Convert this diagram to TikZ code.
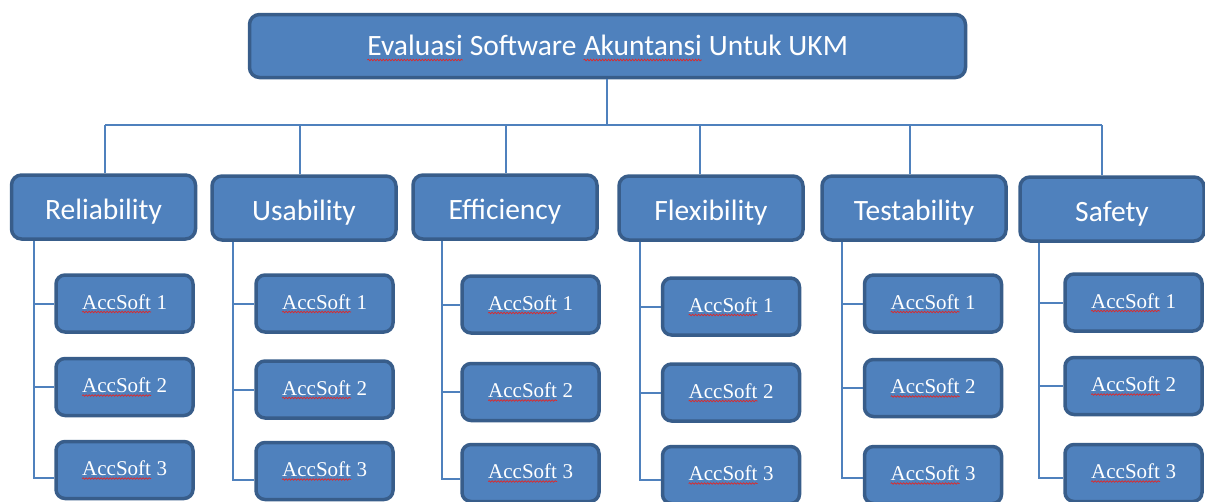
\documentclass[tikz,border=0pt]{standalone}
\usepackage{fontspec}
\setmainfont{Liberation Serif}
\newfontfamily\calibri{Carlito}
\usetikzlibrary{decorations.pathmorphing}

\definecolor{boxfill}{HTML}{4F81BD}
\definecolor{boxedge}{HTML}{385D8A}
\definecolor{linkblue}{HTML}{4F81BD}
\definecolor{spellred}{HTML}{E02828}

\tikzset{
  plainword/.style={draw=none, fill=none, minimum width=0pt, minimum height=0pt,
                    inner sep=0pt, outer sep=0pt, text=white, sharp corners,
                    line width=0.4pt, text height=, text depth=},
  wavy/.style={draw=spellred, line width=0.7pt, sharp corners, decorate,
               decoration={snake, amplitude=0.8pt, segment length=3pt}},
}

% word with a red wavy underline
\newcommand{\spell}[2][3pt]{\tikz[baseline=(sw.base),x=1cm,y=1cm]{%
  \node[plainword] (sw) {#2};%
  \path[wavy] ([yshift=-#1]sw.base west) -- ([yshift=-#1]sw.base east);}}

\tikzset{
  boxbase/.style={draw=boxedge, fill=boxfill, line width=3.5pt,
                  rounded corners=10pt, text=white, inner sep=0pt},
  topbox/.style={boxbase, minimum width=716pt, minimum height=63pt,
                 text height=18pt, text depth=0pt,
                 font=\calibri\fontsize{29.5}{32}\selectfont},
  catbox/.style={boxbase, minimum width=184pt, minimum height=64pt,
                 text height=24pt, text depth=0pt,
                 font=\calibri\fontsize{29.5}{32}\selectfont},
  subbox/.style={boxbase, rounded corners=9pt, minimum width=137pt,
                 minimum height=57pt, text height=11pt, text depth=0pt,
                 font=\fontsize{21}{23}\selectfont},
  link/.style={draw=linkblue, line width=2pt},
}

\begin{document}
\begin{tikzpicture}[x=1pt,y=-1pt]
\useasboundingbox (0,0) rectangle (1205,501);

% root
\node[topbox] (title) at (607.5,46)
  {\spell[5pt]{Evaluasi} Software \spell[5pt]{Akuntansi} Untuk UKM};
\coordinate (bus) at (607,125);
\coordinate (d1) at (105,125);
\coordinate (d6) at (1102,125);
\draw[link] (title.south -| bus) -- (bus);
\draw[link] (d1) -- (d6);

% criteria columns with their candidate packages
\foreach \n/\lab/\cx/\cy/\dx/\sx/\kx/\ya/\yb/\yc/\yl in {
  1/Reliability/103.5/207/105/34/124.5/303.5/387/470/478,
  2/Usability/304/208/300/233/324.5/303.5/389.5/471/480,
  3/Efficiency/505/207/506/442/530.5/304.5/392/473/479,
  4/Flexibility/711/208/700/640/731/306.5/392.5/475/480,
  5/Testability/914/208/910/842/933/303.5/388/475/478,
  6/Safety/1112/209/1102/1039/1133.5/302.5/386/473/478}{
  \node[catbox] (c\n) at (\cx,\cy) {\lab};
  \coordinate (t\n) at (\dx,125);
  \draw[link] (t\n) -- (t\n |- c\n.north);
  \node[subbox] (k\n-1) at (\kx,\ya) {\spell{AccSoft} 1};
  \node[subbox] (k\n-2) at (\kx,\yb) {\spell{AccSoft} 2};
  \node[subbox] (k\n-3) at (\kx,\yc) {\spell{AccSoft} 3};
  \coordinate (s\n) at (\sx,\yl);
  \draw[link] (c\n.south -| s\n) -- (s\n) -- (s\n -| k\n-3.west);
  \draw[link] (c\n.south -| s\n) |- (k\n-1.west);
  \draw[link] (c\n.south -| s\n) |- (k\n-2.west);
}
\end{tikzpicture}
\end{document}
